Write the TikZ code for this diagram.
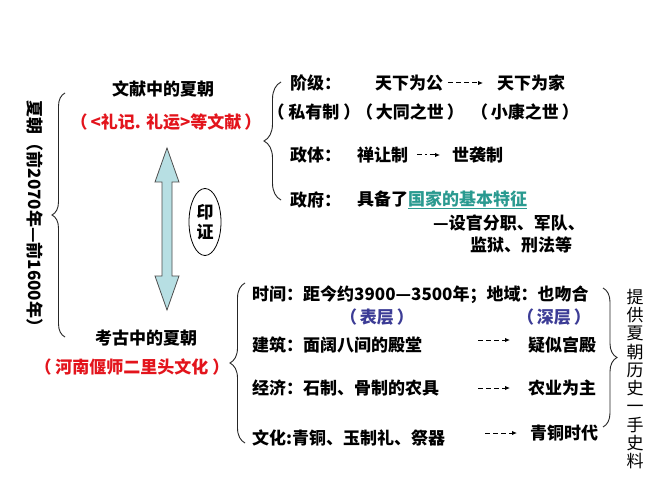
\documentclass[tikz,border=0pt]{standalone}
\usepackage{fontspec}
\setmainfont{Noto Sans CJK SC}
\usetikzlibrary{arrows.meta,decorations.pathreplacing,shapes.geometric}
\definecolor{redt}{HTML}{E3141C}
\definecolor{tealt}{HTML}{2A9A90}
\definecolor{bluet}{HTML}{3C3C96}
\definecolor{arrfill}{HTML}{B7DFE3}
\newcommand{\lp}{（\hspace{3pt}}
\newcommand{\rp}{\hspace{3pt}）}
\begin{document}
\begin{tikzpicture}[x=1pt,y=-1pt,
  txt/.style={inner sep=0pt,font=\fontsize{17}{20}\selectfont\bfseries},
  lt/.style={txt,anchor=west},
  red/.style={txt,text=redt},
  blu/.style={txt,text=bluet},
  brc/.style={decorate,decoration={brace,amplitude=#1},line width=0.9pt,draw=black!85},
  dar/.style={dash pattern=on 5pt off 3pt,line width=1pt,-{Latex[length=5pt,width=4.5pt]}},
  ddar/.style={dash pattern=on 5pt off 3pt on 1.5pt off 3pt,line width=1pt,-{Latex[length=5pt,width=4.5pt]}}
]
\useasboundingbox (0,0) rectangle (667,500);
\fill[white] (0,0) rectangle (667,500);

% left vertical title
\node[txt,rotate=-90] (xia) at (35,218) {夏朝（前2070年—前1600年）};
\draw[brc=13] (65,337) -- (65,93);

% literature / archaeology
\node[txt] (wx) at (163,89) {文献中的夏朝};
\node[red] (wxr) at (166,122) {\lp<礼记. 礼运>等文献\rp};
\node[txt] (kg) at (146,338) {考古中的夏朝};
\node[red] (kgr) at (132,367) {（\hspace{4pt}河南偃师二里头文化\hspace{4pt}）};

% double block arrow
\draw[fill=arrfill,draw=black!70,line width=0.8pt]
  (167,148) -- (179,182) -- (172,182) -- (172,276) -- (179,276) -- (167,310)
  -- (155,276) -- (162,276) -- (162,182) -- (155,182) -- cycle;
\node[draw,ellipse,line width=0.8pt,minimum width=32pt,minimum height=67pt,inner sep=0pt,
  align=center,font=\fontsize{17}{20}\selectfont\bfseries] (yz) at (205,222) {印\\证};

% top-right section
\draw[brc=17] (281,200) -- (281,82);
\node[lt] (jj) at (290,83) {阶级：};
\node[lt] (gong) at (375,83) {天下为公};
\node[lt] (jia) at (497,83) {天下为家};
\coordinate (a1s) at (448,83); \coordinate (a1e) at (483,83);
\draw[dar] (a1s) -- (a1e);
\node[txt] (sy) at (314,112) {（\hspace{4pt}私有制\hspace{4pt}）};
\node[txt] (dt) at (410,112) {\lp 大同之世\rp};
\node[txt] (xk) at (525,112) {\lp 小康之世\rp};
\node[lt] (zt) at (290,155) {政体：};
\node[lt] (srz) at (357,155) {禅让制};
\node[lt] (sxz) at (452,155) {世袭制};
\coordinate (a2s) at (417,155); \coordinate (a2e) at (440,155);
\draw[ddar] (a2s) -- (a2e);
\node[lt] (zf) at (290,200) {政府：};
\node[lt] (jb) at (357,200) {具备了\textcolor{tealt}{\underline{国家的基本特征}}};
\node[lt] (sg) at (433,223) {—设官分职、军队、};
\node[lt] (jyu) at (470,245) {监狱、刑法等};

% bottom section
\draw[brc=15] (245,443) -- (245,283);
\node[lt] (sj) at (252,295) {时间：距今约3900—3500年；地域：也吻合};
\node[blu] (bc) at (377,317) {\lp 表层\rp};
\node[blu] (sc) at (554,317) {\lp 深层\rp};
\node[lt] (jz) at (252,345) {建筑：面阔八间的殿堂};
\node[lt] (ys) at (528,345) {疑似宫殿};
\coordinate (a3s) at (478,340); \coordinate (a3e) at (510,340);
\draw[dar] (a3s) -- (a3e);
\node[lt] (jjx) at (252,388) {经济：石制、骨制的农具};
\node[lt] (ny) at (528,388) {农业为主};
\coordinate (a4s) at (478,388); \coordinate (a4e) at (510,388);
\draw[dar] (a4s) -- (a4e);
\node[lt] (wh) at (252,438) {文化:青铜、玉制礼、祭器};
\node[lt] (qt) at (530,433) {青铜时代};
\coordinate (a5s) at (485,433); \coordinate (a5e) at (517,433);
\draw[dar] (a5s) -- (a5e);

\draw[brc=14] (603,288) -- (603,427);
\node[txt,align=center,font=\fontsize{17}{18.3}\selectfont] (tg) at (635,379)
  {提\\供\\夏\\朝\\历\\史\\一\\手\\史\\料};
\end{tikzpicture}
\end{document}
